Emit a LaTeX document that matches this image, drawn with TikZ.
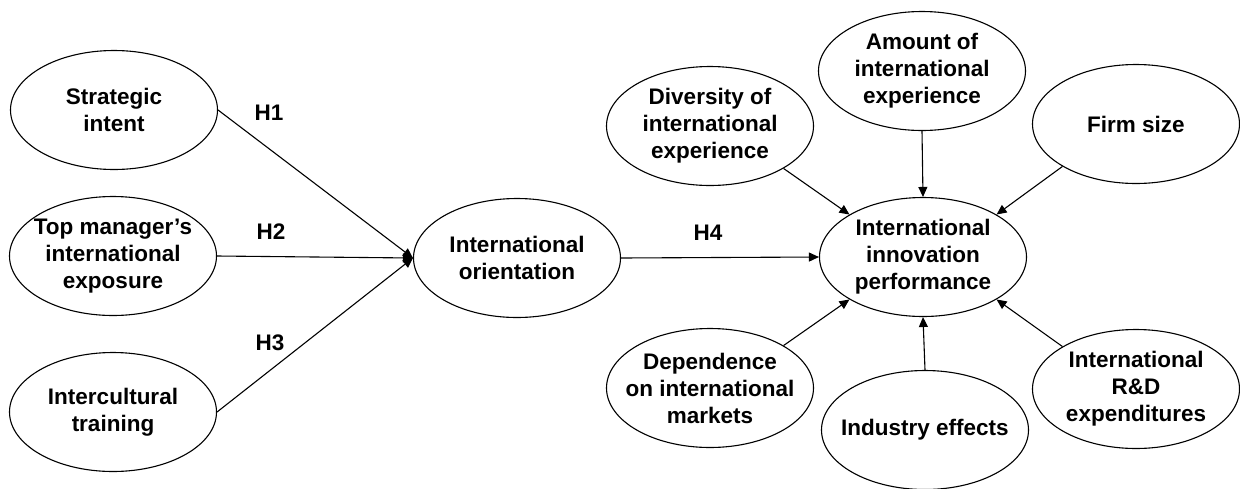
\documentclass[tikz,border=0pt]{standalone}
\usepackage{fontspec}
\setmainfont{Liberation Sans}
\usetikzlibrary{shapes.geometric,arrows.meta}
\tikzset{
  ell/.style={draw, ellipse, line width=1.1pt, minimum width=207pt, minimum height=119pt, inner sep=0pt},
  txt/.style={align=center, font=\fontsize{22.5}{27}\selectfont\bfseries, inner sep=0pt},
  hyp/.style={font=\fontsize{22.5}{27}\selectfont\bfseries, inner sep=0pt},
  arr/.style={line width=1.1pt, -{Triangle[length=10pt,width=9pt]}}
}
\begin{document}
\begin{tikzpicture}[x=1pt,y=-1pt]
\useasboundingbox (0,0) rectangle (1240,488);
% left side
\node[ell] (si) at (114,110) {};
\node[txt] at (si) {Strategic\\intent};
\node[ell] (tm) at (113,256) {};
\node[txt] at (tm) {Top manager’s\\international\\exposure};
\node[ell] (it) at (113,412) {};
\node[txt] at (it) {Intercultural\\training};
\node[ell] (io) at (517,258) {};
\node[txt] at (io) {International\\orientation};
% right side
\node[ell] (iip) at (923,257) {};
\node[txt] at (iip) {International\\innovation\\performance};
\node[ell] (div) at (710,126) {};
\node[txt] at (div) {Diversity of\\international\\experience};
\node[ell] (amt) at (922,71) {};
\node[txt] at (amt) {Amount of\\international\\experience};
\node[ell] (firm) at (1136,124) {};
\node[txt] at (firm) {Firm size};
\node[ell] (dep) at (710,388) {};
\node[txt] at (dep) {Dependence\\on international\\markets};
\node[ell] (ind) at (925,430) {};
\node[txt] at (ind) {Industry effects};
\node[ell] (rd) at (1136,389) {};
\node[txt] at (rd) {International\\R\&D\\expenditures};
% hypothesis labels
\node[hyp] (h1) at (269,113) {H1};
\node[hyp] (h2) at (271,232) {H2};
\node[hyp] (h3) at (270,343) {H3};
\node[hyp] (h4) at (708,233) {H4};
% connectors
\draw[arr] (si.east) -- (io.west);
\draw[arr] (tm.east) -- (io.west);
\draw[arr] (it.east) -- (io.west);
\draw[arr] (io.east) -- (iip.west);
\draw[arr] (div.-30) -- (iip.150);
\draw[arr] (amt.south) -- (iip.north);
\draw[arr] (firm.-150) -- (iip.30);
\draw[arr] (dep.30) -- (iip.-150);
\draw[arr] (ind.north) -- (iip.south);
\draw[arr] (rd.150) -- (iip.-30);
\end{tikzpicture}
\end{document}
